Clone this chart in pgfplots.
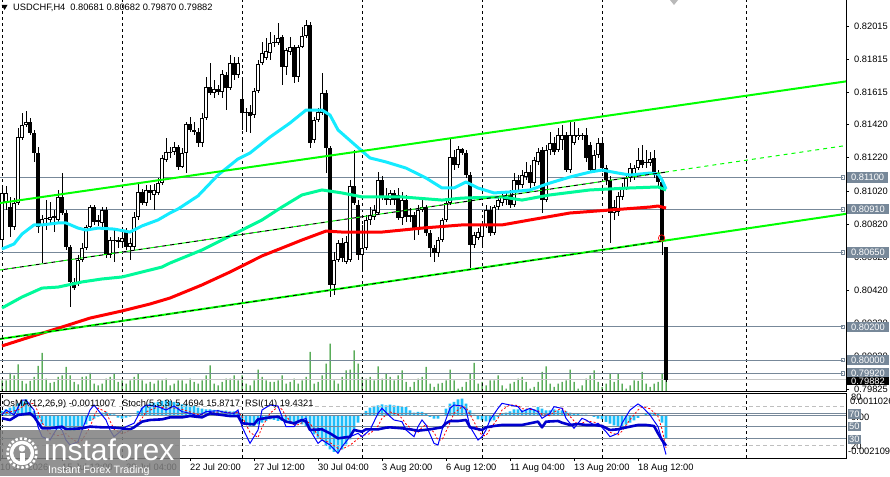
\documentclass[border=0pt]{standalone}
\usepackage{fontspec}
\setmainfont{Liberation Sans}
\usepackage{pgfplots}
\usepackage{pgfplotstable}
\pgfplotsset{compat=1.18}
\definecolor{mtcyan}{RGB}{20,235,255}
\definecolor{mtspring}{RGB}{0,250,154}
\definecolor{mtlime}{RGB}{0,255,0}
\definecolor{slate}{RGB}{119,136,153}
\definecolor{osma}{RGB}{30,190,250}
\definecolor{vol}{RGB}{0,128,0}
\definecolor{rsiblue}{RGB}{0,0,205}
\newcommand\lbl{\fontsize{9.3}{10}\selectfont}

\pgfplotstableread{
i O H L C V M
0 0.80724 0.81038 0.80664 0.81008 117 0.000251
1 0.80953 0.81050 0.80905 0.81008 117 0.000335
2 0.80923 0.80984 0.80742 0.80803 190 0.000418
3 0.80803 0.80977 0.80784 0.80947 167 0.000502
4 0.80947 0.81400 0.80935 0.81345 277 0.000636
5 0.81339 0.81490 0.81327 0.81418 110 0.000753
6 0.81418 0.81502 0.81406 0.81436 83 0.000836
7 0.81436 0.81460 0.81358 0.81370 110 0.000502
8 0.81370 0.81388 0.81195 0.81249 150 0.000251
9 0.81249 0.81285 0.80766 0.80803 260 -0.000167
10 0.80809 0.80875 0.80585 0.80851 390 -0.000418
11 0.80851 0.80965 0.80784 0.80857 133 -0.000502
12 0.80845 0.80953 0.80815 0.80863 90 -0.000585
13 0.80857 0.80905 0.80772 0.80869 100 -0.000669
14 0.80845 0.81026 0.80833 0.80984 150 -0.000669
15 0.80984 0.81128 0.80875 0.80887 167 -0.000636
16 0.80887 0.80905 0.80664 0.80682 250 -0.000669
17 0.80682 0.80694 0.80320 0.80471 167 -0.000753
18 0.80471 0.80495 0.80422 0.80435 100 -0.000753
19 0.80465 0.80634 0.80447 0.80603 77 -0.000669
20 0.80603 0.80706 0.80591 0.80676 150 -0.000585
21 0.80676 0.80815 0.80664 0.80803 157 -0.000418
22 0.80803 0.80935 0.80784 0.80923 190 -0.000251
23 0.80923 0.80935 0.80815 0.80833 83 -0.000134
24 0.80833 0.80875 0.80809 0.80845 67 -0.000033
25 0.80827 0.80923 0.80796 0.80905 83 0.000167
26 0.80905 0.80923 0.80615 0.80634 133 0.000201
27 0.80634 0.80742 0.80615 0.80724 150 0.000134
28 0.80724 0.80784 0.80591 0.80718 183 0.000084
29 0.80724 0.80742 0.80676 0.80712 100 -0.000084
30 0.80712 0.80772 0.80694 0.80736 117 -0.000134
31 0.80772 0.80796 0.80664 0.80682 83 -0.000084
32 0.80682 0.80736 0.80603 0.80706 117 -0.000033
33 0.80682 0.80893 0.80664 0.80863 150 0.000033
34 0.80863 0.81068 0.80845 0.81014 183 0.000251
35 0.81014 0.81032 0.80935 0.80947 117 0.000418
36 0.80947 0.81056 0.80929 0.81026 83 0.000535
37 0.81026 0.81056 0.80965 0.81008 100 0.000636
38 0.80996 0.81062 0.80905 0.81026 83 0.000669
39 0.81008 0.81098 0.80996 0.81068 117 0.000703
40 0.81068 0.81237 0.81056 0.81219 117 0.000753
41 0.81207 0.81339 0.81195 0.81255 133 0.000803
42 0.81249 0.81285 0.81219 0.81255 67 0.000753
43 0.81255 0.81315 0.81237 0.81285 83 0.000703
44 0.81285 0.81297 0.81146 0.81164 117 0.000669
45 0.81164 0.81279 0.81158 0.81249 117 0.000585
46 0.81249 0.81436 0.81128 0.81424 83 0.000585
47 0.81424 0.81466 0.81376 0.81388 133 0.000535
48 0.81388 0.81436 0.81358 0.81376 100 0.000502
49 0.81376 0.81400 0.81285 0.81309 83 0.000418
50 0.81309 0.81490 0.81285 0.81460 117 0.000368
51 0.81460 0.81707 0.81448 0.81647 167 0.000335
52 0.81647 0.81792 0.81599 0.81611 267 0.000335
53 0.81611 0.81689 0.81581 0.81635 83 0.000301
54 0.81635 0.81659 0.81599 0.81617 67 0.000301
55 0.81617 0.81750 0.81581 0.81726 100 0.000268
56 0.81720 0.81738 0.81508 0.81641 133 0.000268
57 0.81641 0.81840 0.81629 0.81792 133 0.000234
58 0.81792 0.81828 0.81689 0.81720 167 0.000234
59 0.81720 0.81828 0.81701 0.81792 117 0.000201
60 0.81575 0.81707 0.81388 0.81490 167 -0.000251
61 0.81496 0.81520 0.81376 0.81490 83 -0.000418
62 0.81496 0.81539 0.81370 0.81472 67 -0.000502
63 0.81478 0.81641 0.81460 0.81623 117 -0.000502
64 0.81623 0.81810 0.81611 0.81786 223 -0.000418
65 0.81792 0.81919 0.81780 0.81852 150 -0.000335
66 0.81822 0.81943 0.81810 0.81864 117 -0.000251
67 0.81852 0.81979 0.81810 0.81913 100 -0.000167
68 0.81913 0.81961 0.81888 0.81919 100 -0.000201
69 0.81913 0.82033 0.81901 0.81943 117 -0.000251
70 0.81949 0.81961 0.81659 0.81768 167 -0.000251
71 0.81768 0.81882 0.81720 0.81870 83 -0.000251
72 0.81858 0.81949 0.81840 0.81888 100 -0.000301
73 0.81888 0.81901 0.81671 0.81707 133 -0.000335
74 0.81707 0.81901 0.81677 0.81888 83 -0.000368
75 0.81888 0.82009 0.81882 0.81955 117 -0.000418
76 0.81955 0.82051 0.81943 0.82021 150 -0.000502
77 0.82021 0.82039 0.81279 0.81309 400 -0.000669
78 0.81327 0.81466 0.81309 0.81448 83 -0.000920
79 0.81448 0.81520 0.81436 0.81496 100 -0.001087
80 0.81490 0.81732 0.81478 0.81611 167 -0.001255
81 0.81611 0.81629 0.81128 0.81279 283 -0.001505
82 0.81279 0.81291 0.80380 0.80453 483 -0.001673
83 0.80453 0.80652 0.80392 0.80603 117 -0.001806
84 0.80603 0.80724 0.80591 0.80706 83 -0.001840
85 0.80706 0.80736 0.80591 0.80615 150 -0.001673
86 0.80591 0.80748 0.80579 0.80712 217 -0.001422
87 0.80603 0.81086 0.80591 0.81050 223 -0.001171
88 0.81050 0.81267 0.80935 0.80947 417 -0.000669
89 0.80935 0.80965 0.80603 0.80634 283 -0.000335
90 0.80634 0.80815 0.80543 0.80676 150 0.000084
91 0.80676 0.80875 0.80664 0.80845 133 0.000251
92 0.80845 0.80923 0.80815 0.80875 150 0.000418
93 0.80863 0.80935 0.80845 0.80905 117 0.000502
94 0.80887 0.81134 0.80875 0.81086 257 0.000535
95 0.81086 0.81110 0.80965 0.80990 133 0.000585
96 0.80990 0.81038 0.80935 0.80965 183 0.000535
97 0.80965 0.81026 0.80935 0.81008 150 0.000569
98 0.81008 0.81026 0.80935 0.80965 117 0.000535
99 0.80996 0.81038 0.80845 0.80857 167 0.000502
100 0.80857 0.81014 0.80815 0.80965 217 0.000452
101 0.80965 0.80996 0.80833 0.80863 100 0.000452
102 0.80863 0.80917 0.80833 0.80875 50 0.000284
103 0.80875 0.80893 0.80724 0.80784 100 0.000167
104 0.80784 0.80935 0.80754 0.80905 133 0.000201
105 0.80905 0.80977 0.80893 0.80923 150 0.000201
106 0.80923 0.80935 0.80748 0.80766 250 0.000117
107 0.80766 0.80784 0.80622 0.80676 83 -0.000050
108 0.80676 0.80694 0.80591 0.80646 50 -0.000134
109 0.80646 0.80742 0.80622 0.80724 83 -0.000134
110 0.80724 0.80857 0.80712 0.80845 90 0.000010
111 0.80845 0.80965 0.80833 0.80947 117 0.000368
112 0.80947 0.81339 0.80935 0.81225 223 0.000619
113 0.81225 0.81267 0.81146 0.81177 117 0.000703
114 0.81177 0.81291 0.81158 0.81273 33 0.000836
115 0.81273 0.81279 0.81237 0.81249 50 0.000870
116 0.81249 0.81267 0.81098 0.81116 100 0.000619
117 0.81116 0.81134 0.80555 0.80694 183 0.000284
118 0.80694 0.80772 0.80676 0.80754 290 0.000067
119 0.80736 0.80796 0.80724 0.80772 83 -0.000167
120 0.80742 0.80833 0.80694 0.80815 100 -0.000217
121 0.80815 0.80935 0.80796 0.80905 67 -0.000268
122 0.80905 0.80929 0.80748 0.80766 117 -0.000268
123 0.80766 0.80935 0.80754 0.80923 117 -0.000217
124 0.80923 0.80977 0.80905 0.80965 167 -0.000050
125 0.80947 0.81008 0.80929 0.80984 67 0.000117
126 0.80977 0.81014 0.80935 0.80965 33 0.000167
127 0.80996 0.81026 0.80917 0.80935 83 0.000234
128 0.80935 0.81128 0.80923 0.81086 100 0.000335
129 0.81086 0.81116 0.81026 0.81056 133 0.000335
130 0.81056 0.81146 0.81038 0.81116 150 0.000284
131 0.81104 0.81195 0.81086 0.81134 100 0.000335
132 0.81134 0.81177 0.81038 0.81068 33 0.000368
133 0.81068 0.81225 0.81050 0.81207 50 0.000335
134 0.81195 0.81279 0.81177 0.81255 100 0.000452
135 0.81267 0.81285 0.80887 0.80965 200 0.000368
136 0.80965 0.81297 0.80953 0.81267 257 0.000284
137 0.81267 0.81376 0.81237 0.81309 83 0.000284
138 0.81309 0.81345 0.81237 0.81255 50 0.000335
139 0.81267 0.81400 0.81255 0.81358 83 0.000284
140 0.81327 0.81418 0.81267 0.81358 100 0.000284
141 0.81358 0.81376 0.81134 0.81146 117 0.000234
142 0.81146 0.81448 0.81128 0.81358 223 0.000167
143 0.81309 0.81436 0.81297 0.81358 100 0.000117
144 0.81345 0.81400 0.81327 0.81358 33 0.000117
145 0.81352 0.81370 0.81327 0.81358 67 0.000067
146 0.81358 0.81400 0.81195 0.81219 133 0.000067
147 0.81297 0.81315 0.81128 0.81146 167 0.000033
148 0.81146 0.81267 0.81134 0.81237 217 -0.000050
149 0.81237 0.81339 0.81219 0.81309 100 -0.000134
150 0.81309 0.81327 0.81134 0.81158 50 -0.000167
151 0.81158 0.81177 0.81056 0.81086 83 -0.000301
152 0.81086 0.81110 0.80706 0.80887 183 -0.000385
153 0.80887 0.80965 0.80845 0.80923 100 -0.000468
154 0.80893 0.81014 0.80869 0.80990 183 -0.000502
155 0.80984 0.81068 0.80965 0.81038 83 -0.000502
156 0.81038 0.81116 0.81026 0.81098 33 -0.000435
157 0.81098 0.81189 0.81074 0.81158 67 -0.000335
158 0.81116 0.81177 0.81086 0.81158 117 -0.000217
159 0.81158 0.81279 0.81146 0.81207 110 -0.000100
160 0.81207 0.81297 0.81158 0.81177 200 0.000010
161 0.81189 0.81267 0.81158 0.81195 83 0.000117
162 0.81189 0.81255 0.81171 0.81213 50 0.000167
163 0.81219 0.81267 0.81098 0.81128 83 0.000167
164 0.81128 0.81146 0.81038 0.81074 100 0.000117
165 0.81074 0.81086 0.80634 0.80712 183 -0.000335
166 0.80681 0.80682 0.79870 0.79882 233 -0.0011007
}\candles

\begin{document}
\begin{tikzpicture}[x=1pt,y=1pt]
\useasboundingbox (0,0) rectangle (890,476);
\fill[white] (0,0) rectangle (890,476);

% ---------- volumes ----------
\begin{axis}[at={(0pt,84pt)}, anchor=south west, scale only axis,
  width=846pt, height=392pt, xmin=-0.5, xmax=211, ymin=0, ymax=3920, hide axis]
\addplot[ybar, bar width=1pt, fill=vol, draw=none] table[x=i, y=V] {\candles};
\end{axis}

% ---------- price window ----------
\begin{axis}[at={(0pt,84pt)}, anchor=south west, scale only axis,
  width=846pt, height=392pt, xmin=-0.5, xmax=211, ymin=0.798071, ymax=0.82172,
  axis x line*=bottom, axis y line*=right,
  axis line style={black, line width=1pt},
  xtick=\empty, scaled y ticks=false,
  ytick={0.82015,0.81815,0.81615,0.81420,0.81220,0.81020,0.80820,0.80620,0.80420,0.80220,0.80020,0.79825},
  yticklabels={0.82015,0.81815,0.81615,0.81420,0.81220,0.81020,0.80820,0.80620,0.80420,0.80220,0.80020,0.79825},
  tick align=outside, major tick length=3pt, tick style={black, line width=0.8pt},
  yticklabel style={anchor=west, inner sep=0pt, xshift=5pt, font=\lbl, text=black}]
% grid
\foreach \g in {0,30,60,90,120,150,186.2}{
  \edef\tmp{\noexpand\addplot[black, line width=0.8pt, dash pattern=on 3pt off 3pt, forget plot] coordinates {(\g,0.798071) (\g,0.82172)};}\tmp}
% horizontal levels
\addplot[slate, line width=1pt, forget plot] coordinates {(-0.5,0.81100) (210.25,0.81100)};
\addplot[slate, line width=1pt, forget plot] coordinates {(-0.5,0.80910) (210.25,0.80910)};
\addplot[slate, line width=1pt, forget plot] coordinates {(-0.5,0.80650) (210.25,0.80650)};
\addplot[slate, line width=1pt, forget plot] coordinates {(-0.5,0.80200) (210.25,0.80200)};
\addplot[slate, line width=1pt, forget plot] coordinates {(-0.5,0.80000) (210.25,0.80000)};
\addplot[slate, line width=1pt, forget plot] coordinates {(-0.5,0.79920) (210.25,0.79920)};
\addplot[gray!45, line width=1pt, forget plot] coordinates {(-0.5,0.79882) (211,0.79882)};
\addplot[slate, only marks, mark=square, mark size=1.8pt, line width=0.8pt, forget plot] coordinates {(210.25,0.81100) (210.25,0.80910) (210.25,0.80650) (210.25,0.80200) (210.25,0.80000) (210.25,0.79920)};
% candles: wicks, bodies, hollow interiors
\addplot[draw=none, mark=none, forget plot,
  error bars/.cd, y dir=both, y explicit, error mark=none,
  error bar style={draw=black, line width=1pt}]
  table[x=i, y=C, y error plus expr=\thisrow{H}-\thisrow{C}, y error minus expr=\thisrow{C}-\thisrow{L}] {\candles};
\addplot[draw=none, mark=none, forget plot,
  error bars/.cd, y dir=both, y explicit, error mark=none,
  error bar style={draw=black, line width=3.2pt}]
  table[x=i, y=C, y error plus expr={max(\thisrow{O}-\thisrow{C},0.00001)}, y error minus expr={max(\thisrow{C}-\thisrow{O},0)}] {\candles};
\addplot[draw=none, mark=none, forget plot,
  error bars/.cd, y dir=minus, y explicit, error mark=none,
  error bar style={draw=white, line width=1.2pt}]
  table[x=i, y expr=\thisrow{C}-0.00006, y error minus expr={max(\thisrow{C}-\thisrow{O}-0.00012,0)}] {\candles};
% moving averages
\addplot[red, line width=3pt, line join=round] coordinates {(0,0.80085) (7,0.80139) (15,0.80199) (22,0.80253) (30,0.80296) (37,0.80338) (42,0.80374) (50,0.80453) (57,0.80531) (65,0.80628) (75,0.80724) (81,0.80778) (85,0.80772) (95,0.80772) (105,0.80796) (115,0.80815) (125,0.80815) (132,0.80845) (142,0.80887) (152,0.80905) (162,0.80923) (164,0.80929) (166,0.80917)};
\addplot[mtspring, line width=3pt, line join=round] coordinates {(0,0.80314) (5,0.80380) (10,0.80434) (14,0.80440) (20,0.80471) (25,0.80489) (30,0.80501) (35,0.80531) (40,0.80561) (42,0.80585) (50,0.80664) (55,0.80724) (60,0.80784) (65,0.80845) (70,0.80923) (75,0.80996) (80,0.81026) (85,0.81008) (90,0.80984) (100,0.80984) (110,0.80965) (115,0.80977) (125,0.80984) (130,0.80965) (137,0.80996) (147,0.81026) (157,0.81038) (164,0.81044) (166,0.81026)};
\addplot[mtcyan, line width=3pt, line join=round] coordinates {(0,0.80670) (3,0.80700) (5,0.80760) (8,0.80815) (10,0.80815) (14,0.80827) (16,0.80827) (19,0.80796) (21,0.80784) (24,0.80796) (28,0.80790) (32,0.80772) (35,0.80809) (39,0.80845) (42,0.80887) (44,0.80911) (49,0.80990) (54,0.81116) (59,0.81213) (62,0.81249) (67,0.81345) (72,0.81430) (76,0.81508) (80,0.81508) (82,0.81478) (84,0.81388) (88,0.81303) (92,0.81219) (96,0.81195) (101,0.81158) (106,0.81098) (110,0.81038) (113,0.81038) (116,0.81074) (119,0.81038) (123,0.81008) (127,0.81014) (132,0.81026) (137,0.81068) (142,0.81104) (147,0.81134) (150,0.81146) (154,0.81128) (157,0.81116) (162,0.81128) (164,0.81122) (165,0.81086) (166,0.81032)};
% channel lines
\addplot[mtlime, line width=2pt] coordinates {(-0.5,0.80947) (211,0.81681)};
\addplot[mtlime, line width=2pt] coordinates {(-0.5,0.80127) (211,0.80882)};
\addplot[black, line width=0.8pt, dash pattern=on 4pt off 4pt] coordinates {(-0.5,0.80127) (165.75,0.80720)};
\addplot[mtlime, line width=1pt, dash pattern=on 4pt off 4pt] coordinates {(-0.5,0.80543) (211,0.81294)};
\addplot[black, line width=1pt, dash pattern=on 4pt off 4pt, dash phase=4pt] coordinates {(-0.5,0.80543) (165.75,0.81133)};
\addplot[red, only marks, mark=o, mark size=3.2pt, line width=0.7pt] coordinates {(164.9,0.80736)};
\end{axis}

% ---------- OsMA (sub window, behind) ----------
\begin{axis}[at={(0pt,18pt)}, anchor=south west, scale only axis,
  width=846pt, height=64pt, xmin=-0.5, xmax=211, ymin=-0.002109, ymax=0.0011026, hide axis]
\addplot[ybar, bar width=2.6pt, fill=osma, draw=none] table[x=i, y=M] {\candles};
\addplot[slate, line width=1pt] coordinates {(-0.5,0) (211,0)};
\end{axis}

% ---------- Stochastic and RSI ----------
\begin{axis}[at={(0pt,18pt)}, anchor=south west, scale only axis,
  width=846pt, height=64pt, xmin=-0.5, xmax=211, ymin=0, ymax=100,
  axis line style={black, line width=1pt},
  ytick=\empty, xtick pos=left,
  xtick={-0.5,15,31,47,63,79,95,111,127,143,159},
  xticklabels={10 Jul 2026,15 Jul 12:00,20 Jul 04:00,22 Jul 20:00,27 Jul 12:00,30 Jul 04:00,3 Aug 20:00,6 Aug 12:00,11 Aug 04:00,13 Aug 20:00,18 Aug 12:00},
  tick align=outside, major tick length=3pt, tick style={black, line width=0.8pt},
  xticklabel style={anchor=north west, inner sep=0pt, yshift=-3pt, font=\lbl, text=black}]
\foreach \g in {0,30,60,90,120,150,186.2}{
  \edef\tmp{\noexpand\addplot[black, line width=0.8pt, dash pattern=on 3pt off 3pt, forget plot] coordinates {(\g,0) (\g,100)};}\tmp}
\addplot[gray!50, line width=1pt, dash pattern=on 4pt off 3pt] coordinates {(-0.5,80) (211,80)};
\addplot[gray!50, line width=1pt, dash pattern=on 4pt off 3pt] coordinates {(-0.5,20) (211,20)};
\addplot[slate, line width=1pt] coordinates {(-0.5,70) (211,70)};
\addplot[slate, line width=1pt] coordinates {(-0.5,50) (211,50)};
\addplot[slate, line width=1pt] coordinates {(-0.5,30) (211,30)};
% stochastic signal
\addplot[red, line width=0.8pt, dash pattern=on 2pt off 2pt] coordinates {(0,70) (2,72) (4,75) (6,85) (8,85) (9,72) (10,55) (12,38) (14,35) (16,38) (17,32) (19,24) (20,28) (22,48) (23,65) (24,78) (26,72) (27,58) (28,45) (30,38) (31,40) (33,48) (35,62) (36,72) (39,80) (41,78) (43,78) (45,76) (47,72) (49,68) (51,68) (54,72) (56,72) (58,70) (59,72) (60,65) (62,40) (64,32) (65,48) (67,70) (69,80) (70,76) (71,65) (73,52) (74,52) (76,58) (77,54) (79,35) (80,28) (82,24) (84,15) (85,14) (87,20) (89,30) (90,35) (92,38) (94,50) (95,62) (97,72) (99,68) (100,62) (101,53) (103,42) (104,40) (105,48) (106,52) (108,40) (109,28) (110,28) (112,55) (113,70) (115,80) (116,79) (117,68) (119,45) (120,35) (121,35) (122,45) (124,62) (125,75) (127,83) (129,82) (130,77) (132,76) (134,74) (135,68) (137,66) (138,72) (140,78) (141,72) (143,58) (144,52) (145,54) (146,58) (148,56) (149,54) (151,48) (152,40) (154,36) (155,42) (157,60) (159,75) (160,80) (162,77) (164,65) (165,45) (166,15.8717)};
% stochastic main
\addplot[blue, line width=1pt] coordinates {(0,67.2) (1,75) (3,67.2) (5,90.6) (6,90.6) (8,75) (9,49) (10,33.3) (12,28.1) (14,49) (15,43.8) (16,28.1) (17,20.3) (19,25.5) (20,43.8) (22,75) (23,82.8) (24,75) (26,59.4) (27,43.8) (28,33.3) (30,43.8) (31,49) (33,54.2) (35,77.6) (36,82.8) (39,80.2) (41,75) (43,81.2) (45,72.4) (47,69.8) (49,65.6) (51,72.4) (54,73.9) (56,70.8) (58,69.8) (59,75) (60,49) (62,22.9) (64,43.8) (65,75) (67,82.8) (69,81.2) (70,64.6) (71,49) (73,49) (74,56.8) (76,62) (77,43.8) (79,22.9) (80,28.1) (82,20.3) (84,7.3) (85,17.7) (87,33.3) (89,38.5) (90,33.3) (92,43.8) (94,69.8) (95,77.6) (97,65) (98,59.4) (100,56.8) (101,43.8) (103,33.3) (104,49) (105,59.4) (106,51.6) (108,22.9) (109,20.3) (110,43.8) (112,77.6) (113,82.8) (115,81.2) (116,75) (117,49) (119,28.1) (120,33.3) (121,43.8) (122,59.4) (124,77.6) (125,85.4) (127,82.8) (129,80.2) (130,72.4) (132,77.6) (134,72.4) (135,62) (137,69.8) (138,80.2) (140,77.6) (141,62) (143,46.4) (144,54.2) (145,62) (146,59.4) (148,51.6) (149,54.2) (151,41.1) (152,33.3) (154,38.5) (155,54.2) (157,75) (159,84.4) (160,80.2) (162,67.2) (164,49) (165,28.1) (166,5.4694)};
% RSI
\addplot[rsiblue, line width=2.6pt, line join=round] coordinates {(0,62) (2,59.4) (4,67.2) (7,69.8) (8,64.6) (10,46.4) (12,46.4) (15,49) (16,44.8) (20,46.4) (22,49) (25,47.9) (27,47.9) (30,46.4) (32,44.8) (33,47.9) (35,56.8) (37,59.4) (40,60.4) (42,63.5) (45,63.5) (47,65.6) (50,63.5) (52,69.8) (55,67.2) (57,65.6) (59,65.6) (60,54.2) (63,52.6) (64,60.4) (67,63.5) (69,64.6) (71,56.8) (73,54.2) (75,59.4) (76,56.8) (77,43.8) (80,44.8) (82,38.5) (84,30.7) (87,33.3) (88,43.8) (90,41.1) (91,44.8) (94,44.8) (96,47.4) (97,47.9) (100,46.4) (102,44.8) (104,42.7) (107,44.8) (110,47.9) (111,54.2) (112,57.8) (114,57.8) (116,59.4) (117,47.9) (120,43.8) (121,47.9) (123,50) (125,51.6) (127,51.6) (130,51.6) (132,54.2) (134,56.8) (135,47.9) (136,56.8) (139,57.8) (140,55.2) (142,51.6) (144,53.1) (146,51.6) (148,51.6) (150,50) (152,43.8) (154,44.8) (155,46.4) (157,49) (159,51.6) (161,51.6) (163,50) (164,38.5) (165,28.1) (166,19.4321)};
\end{axis}

% ---------- header texts ----------
\fill[black] (1.7,471) -- (7.5,471) -- (4.6,466) -- cycle;
\node[anchor=base west, inner sep=0pt, font=\lbl] at (13,465) {USDCHF,H4\hspace{5pt}0.80681 0.80682 0.79870 0.79882};
\node[anchor=base west, inner sep=0pt, font=\lbl] at (3,70) {OsMA(12,26,9) -0.0011007};
\node[anchor=base west, inner sep=0pt, font=\lbl] at (122,70) {Stoch(5,3,3) 5.4694 15.8717};
\node[anchor=base west, inner sep=0pt, font=\lbl] at (245,70) {RSI(14) 19.4321};

% ---------- right scale boxes ----------
\tikzset{pbox/.style={fill=slate, text=white, anchor=west, inner xsep=4pt, inner ysep=0pt, minimum height=10.5pt, font=\lbl}}
\node[pbox] at (847,298.3) {0.81100};
\node[pbox] at (847,266.8) {0.80910};
\node[pbox] at (847,223.7) {0.80650};
\node[pbox] at (847,149.1) {0.80200};
\node[pbox] at (847,116.0) {0.80000};
\node[pbox] at (847,102.7) {0.79920};
\node[pbox, fill=black, minimum height=8pt] at (847,95.0) {0.79882};
% sub window scale
\node[anchor=west, inner sep=0pt, font=\lbl] at (851,79) {80};
\node[anchor=west, inner sep=0pt, font=\lbl] at (850,74.5) {0.0011026};
\node[anchor=west, inner sep=0pt, font=\lbl] at (851,59) {0.00};
\node[anchor=west, inner sep=0pt, font=\lbl] at (851,30) {20};
\node[anchor=west, inner sep=0pt, font=\lbl] at (848,24.5) {-0.002109};
\tikzset{sbox/.style={fill=slate, text=white, anchor=west, inner xsep=1pt, inner ysep=0pt, minimum height=9.5pt, font=\lbl}}
\node[sbox] at (848,62) {70};
\node[sbox] at (848,49.5) {50};
\node[sbox] at (848,36.5) {30};

% ---------- shift marker ----------
\fill[gray!55] (670,476) -- (678,476) -- (674,471) -- cycle;

% ---------- logo ----------
\fill[gray, opacity=0.85] (0,0) rectangle (180,46);
\draw[white, line width=3.5pt] (22,23) circle (10.5);
\draw[white, line width=2.5pt, dash pattern=on 2.5pt off 2pt] (22,23) circle (14.5);
\fill[white] (22,27.5) circle (3.2);
\fill[white] (19.5,12) rectangle (24.5,23);
\node[anchor=base west, inner sep=0pt, text=white, font=\fontsize{30}{30}\selectfont] at (44,16) {instaforex};
\node[anchor=base west, inner sep=0pt, text=white, font=\fontsize{10.7}{11}\selectfont] at (48,3) {Instant Forex Trading};
\end{tikzpicture}
\end{document}
